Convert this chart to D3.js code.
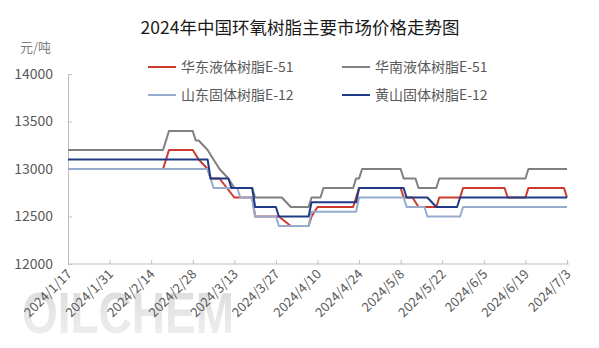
<!DOCTYPE html>
<html>
<head>
<meta charset="utf-8">
<script src="https://cdn.jsdelivr.net/npm/d3@7/dist/d3.min.js"></script>
<style>
  html, body { margin: 0; padding: 0; background: #fff; }
  svg { display: block; font-family: "Microsoft YaHei", "Noto Sans CJK SC", "Noto Sans", sans-serif; }
</style>
</head>
<body>
<svg id="chart" width="599" height="348"></svg>
<script>
// Price vertices [date, 元/吨] for each market; each value holds until the next vertex.
const eastLiquidE51 = [
  ["2024-01-17", 13000], ["2024-02-18", 13000], ["2024-02-20", 13200], ["2024-02-28", 13200],
  ["2024-03-01", 13100], ["2024-03-04", 13000], ["2024-03-05", 12900], ["2024-03-08", 12900],
  ["2024-03-13", 12700], ["2024-03-19", 12700], ["2024-03-20", 12500], ["2024-03-28", 12500],
  ["2024-04-01", 12400], ["2024-04-07", 12400], ["2024-04-08", 12500], ["2024-04-10", 12600],
  ["2024-04-22", 12600], ["2024-04-24", 12800], ["2024-05-08", 12800], ["2024-05-09", 12700],
  ["2024-05-12", 12700], ["2024-05-14", 12600], ["2024-05-20", 12600], ["2024-05-21", 12700],
  ["2024-05-28", 12700], ["2024-05-29", 12800], ["2024-06-12", 12800], ["2024-06-13", 12700],
  ["2024-06-19", 12700], ["2024-06-20", 12800], ["2024-07-02", 12800], ["2024-07-03", 12700]
];
const southLiquidE51 = [
  ["2024-01-17", 13200], ["2024-02-18", 13200], ["2024-02-20", 13400], ["2024-02-28", 13400],
  ["2024-02-29", 13300], ["2024-03-01", 13300], ["2024-03-04", 13200], ["2024-03-05", 13150],
  ["2024-03-06", 13100], ["2024-03-07", 13050], ["2024-03-08", 13000], ["2024-03-11", 12900],
  ["2024-03-12", 12850], ["2024-03-13", 12800], ["2024-03-19", 12800], ["2024-03-20", 12700],
  ["2024-03-29", 12700], ["2024-04-01", 12600], ["2024-04-07", 12600], ["2024-04-08", 12700],
  ["2024-04-11", 12700], ["2024-04-12", 12800], ["2024-04-22", 12800], ["2024-04-23", 12900],
  ["2024-04-24", 12900], ["2024-04-25", 13000], ["2024-05-08", 13000], ["2024-05-09", 12900],
  ["2024-05-13", 12900], ["2024-05-14", 12800], ["2024-05-20", 12800], ["2024-05-21", 12900],
  ["2024-06-19", 12900], ["2024-06-20", 13000], ["2024-07-03", 13000]
];
const shandongSolidE12 = [
  ["2024-01-17", 13000], ["2024-03-04", 13000], ["2024-03-06", 12800], ["2024-03-14", 12800],
  ["2024-03-15", 12700], ["2024-03-19", 12700], ["2024-03-20", 12500], ["2024-03-27", 12500],
  ["2024-03-28", 12400], ["2024-04-07", 12400], ["2024-04-08", 12550], ["2024-04-23", 12550],
  ["2024-04-24", 12700], ["2024-05-09", 12700], ["2024-05-10", 12600], ["2024-05-16", 12600],
  ["2024-05-17", 12500], ["2024-05-28", 12500], ["2024-05-29", 12600], ["2024-07-03", 12600]
];
const huangshanSolidE12 = [
  ["2024-01-17", 13100], ["2024-03-04", 13100], ["2024-03-05", 12900], ["2024-03-11", 12900],
  ["2024-03-12", 12800], ["2024-03-19", 12800], ["2024-03-20", 12600], ["2024-03-27", 12600],
  ["2024-03-28", 12500], ["2024-04-07", 12500], ["2024-04-08", 12650], ["2024-04-23", 12650],
  ["2024-04-24", 12800], ["2024-05-09", 12800], ["2024-05-10", 12700], ["2024-05-17", 12700],
  ["2024-05-20", 12600], ["2024-05-27", 12600], ["2024-05-28", 12700], ["2024-07-03", 12700]
];

const seriesNames = ["华东液体树脂E-51", "华南液体树脂E-51", "山东固体树脂E-12", "黄山固体树脂E-12"];
const seriesColors = ["#cc3b2d", "#808080", "#95acce", "#1f3a86"];
const xTickLabels = ["2024/1/17", "2024/1/31", "2024/2/14", "2024/2/28", "2024/3/13", "2024/3/27",
  "2024/4/10", "2024/4/24", "2024/5/8", "2024/5/22", "2024/6/5", "2024/6/19", "2024/7/3"];
const yTicks = [12000, 12500, 13000, 13500, 14000];

const chartTitle = "2024年中国环氧树脂主要市场价格走势图";
const unitLabel = "元/吨";

const parseDay = d3.timeParse("%Y-%m-%d");
const parseLabel = d3.timeParse("%Y/%m/%d");
const series = [eastLiquidE51, southLiquidE51, shandongSolidE12, huangshanSolidE12]
  .map((pts, i) => ({ name: seriesNames[i], color: seriesColors[i],
    values: pts.map(([d, v]) => ({ date: parseDay(d), value: v })) }));
const tickDates = xTickLabels.map(s => parseLabel(s));

const svg = d3.select("#chart");
const plot = { left: 68, right: 567, top: 74, bottom: 264 };

const x = d3.scaleTime().domain([tickDates[0], tickDates[tickDates.length - 1]]).range([plot.left, plot.right]);
const y = d3.scaleLinear().domain([12000, 14000]).range([plot.bottom, plot.top]);

// watermark behind the axis labels
const defs = svg.append("defs");
const wmGrad = defs.append("linearGradient").attr("id", "wmGrad")
  .attr("x1", 0).attr("y1", 0).attr("x2", 0).attr("y2", 1);
wmGrad.append("stop").attr("offset", "0%").attr("stop-color", "#d9d9d9");
wmGrad.append("stop").attr("offset", "100%").attr("stop-color", "#f2f2f2");
svg.append("text")
  .attr("x", 22).attr("y", 333)
  .attr("textLength", 212).attr("lengthAdjust", "spacingAndGlyphs")
  .attr("font-family", "Liberation Sans, Arial, sans-serif")
  .attr("font-weight", "bold").attr("font-size", 58)
  .attr("fill", "url(#wmGrad)")
  .text("OILCHEM");

// title and unit
svg.append("text").attr("x", 300).attr("y", 34).attr("text-anchor", "middle")
  .attr("font-size", 17.5).attr("fill", "#1a1a1a").text(chartTitle);
svg.append("text").attr("x", 20).attr("y", 52)
  .attr("font-size", 13).attr("fill", "#7f7f7f").text(unitLabel);

// y axis
const yAxis = svg.append("g").attr("transform", `translate(${plot.left},0)`)
  .call(d3.axisLeft(y).tickValues(yTicks).tickSize(-4).tickPadding(15).tickFormat(d3.format("d")));
yAxis.select(".domain").attr("stroke", "#bfbfbf");
yAxis.selectAll(".tick line").attr("stroke", "#bfbfbf");
yAxis.selectAll(".tick text").attr("font-size", 14).attr("fill", "#595959")
  .attr("font-family", "\"Microsoft YaHei\", \"Noto Sans CJK SC\", sans-serif");

// x axis
const xAxis = svg.append("g").attr("transform", `translate(0,${plot.bottom})`)
  .call(d3.axisBottom(x).tickValues(tickDates).tickSize(-4).tickFormat((d, i) => xTickLabels[i]));
xAxis.select(".domain").attr("stroke", "#bfbfbf").attr("d", `M${plot.left},0H${plot.right + 2}`);
xAxis.selectAll(".tick line").attr("stroke", "#bfbfbf");
xAxis.selectAll(".tick text")
  .attr("font-size", 13).attr("fill", "#595959")
  .attr("font-family", "\"Microsoft YaHei\", \"Noto Sans CJK SC\", sans-serif")
  .attr("text-anchor", "end")
  .attr("dy", null).attr("y", null)
  .attr("transform", "translate(4,11) rotate(-45)");

// price lines
const line = d3.line().x(d => x(d.date)).y(d => y(d.value));
svg.append("g").selectAll("path").data(series).join("path")
  .attr("d", d => line(d.values))
  .attr("fill", "none")
  .attr("stroke", d => d.color)
  .attr("stroke-width", 2)
  .attr("stroke-linejoin", "round");

// legend
const legendPos = [[148, 67], [342, 67], [148, 95], [342, 95]];
const legend = svg.append("g").selectAll("g").data(series).join("g")
  .attr("transform", (d, i) => `translate(${legendPos[i][0]},${legendPos[i][1]})`);
legend.append("line").attr("x1", 0).attr("x2", 28).attr("y1", 0).attr("y2", 0)
  .attr("stroke", d => d.color).attr("stroke-width", 2);
legend.append("text").attr("x", 33).attr("y", 5)
  .attr("font-size", 14).attr("fill", "#595959").text(d => d.name);
</script>
</body>
</html>
